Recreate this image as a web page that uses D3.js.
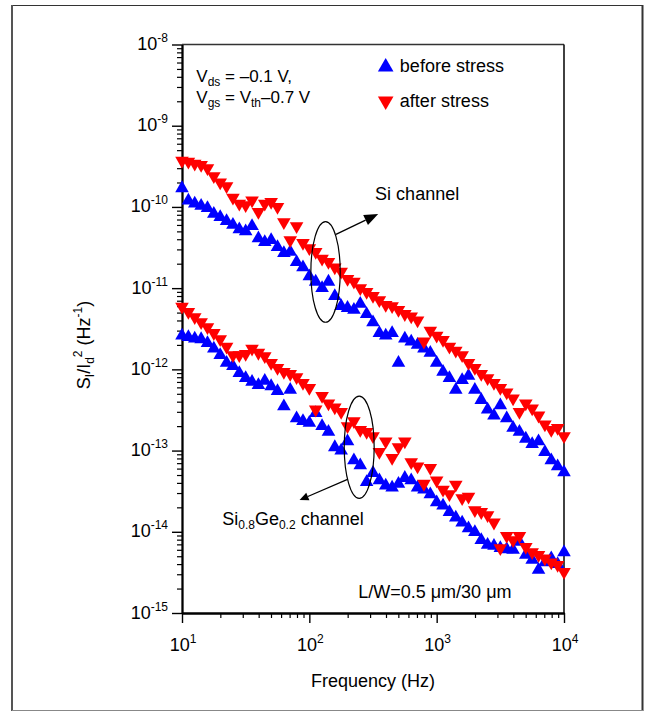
<!DOCTYPE html>
<html><head><meta charset="utf-8">
<script src="https://cdn.jsdelivr.net/npm/d3@7"></script>
<style>
body{margin:0;background:#fff;}
svg text{font-family:"Liberation Sans", Arial, Helvetica, sans-serif;fill:#000;}
</style></head><body>
<svg id="chart" width="647" height="713"></svg>
<script>
// ---------- data ----------
const frequencies = [10, 11.22, 12.59, 14.13, 15.85, 17.78, 19.95, 22.39, 25.12, 28.18,
  31.62, 35.48, 39.81, 44.67, 50.12, 56.23, 63.10, 70.79, 79.43, 89.13,
  100, 112.2, 125.9, 141.3, 158.5, 177.8, 199.5, 223.9, 251.2, 281.8,
  316.2, 354.8, 398.1, 446.7, 501.2, 562.3, 631.0, 707.9, 794.3, 891.3,
  1000, 1122, 1259, 1413, 1585, 1778, 1995, 2239, 2512, 2818,
  3162, 3548, 3981, 4467, 5012, 5623, 6310, 7079, 7943, 8913, 10000];

const siBefore = [1.7e-10, 1.2e-10, 1.1e-10, 1.03e-10, 9.7e-11, 8.2e-11, 7.5e-11, 6.7e-11, 6.0e-11, 5.3e-11,
  5.0e-11, 5.8e-11, 4.1e-11, 3.7e-11, 3.9e-11, 3.2e-11, 2.7e-11, 2.8e-11, 2.1e-11, 1.8e-11,
  1.4e-11, 1.2e-11, 1.0e-11, 1.2e-11, 8.0e-12, 6.0e-12, 5.7e-12, 5.4e-12, 6.4e-12, 4.8e-12,
  3.8e-12, 2.8e-12, 2.6e-12, 2.8e-12, 1.2e-12, 2.4e-12, 2.2e-12, 2.0e-12, 1.8e-12, 1.6e-12,
  1.2e-12, 9.3e-13, 7.8e-13, 5.6e-13, 7.4e-13, 8.3e-13, 5.6e-13, 4.2e-13, 3.2e-13, 2.7e-13,
  3.6e-13, 2.5e-13, 1.9e-13, 1.7e-13, 1.4e-13, 1.2e-13, 1.3e-13, 9.6e-14, 7.6e-14, 6.4e-14, 5.4e-14];

const siAfter = [3.7e-10, 3.6e-10, 3.4e-10, 3.3e-10, 3.0e-10, 2.4e-10, 2.0e-10, 1.8e-10, 1.3e-10, 1.1e-10,
  1.05e-10, 1.2e-10, 8.7e-11, 1.1e-10, 1.15e-10, 1.0e-10, 6.5e-11, 3.9e-11, 5.8e-11, 3.6e-11,
  3.1e-11, 2.8e-11, 2.3e-11, 2.1e-11, 1.8e-11, 1.6e-11, 1.3e-11, 1.2e-11, 1.0e-11, 9.0e-12,
  8.0e-12, 7.1e-12, 6.2e-12, 6.0e-12, 5.4e-12, 4.8e-12, 4.5e-12, 4.0e-12, 2.2e-12, 3.0e-12,
  2.6e-12, 2.3e-12, 1.9e-12, 1.7e-12, 1.5e-12, 1.2e-12, 1.04e-12, 8.8e-13, 7.8e-13, 6.8e-13,
  5.9e-13, 5.2e-13, 4.4e-13, 3.0e-13, 3.8e-13, 3.3e-13, 2.7e-13, 2.1e-13, 1.8e-13, 1.9e-13, 1.5e-13];

const sigeBefore = [2.6e-12, 2.5e-12, 2.4e-12, 2.35e-12, 2.1e-12, 1.8e-12, 1.5e-12, 1.2e-12, 1.1e-12, 9.0e-13,
  7.8e-13, 7.0e-13, 6.4e-13, 7.2e-13, 6.2e-13, 5.4e-13, 3.5e-13, 5.6e-13, 2.5e-13, 2.3e-13,
  2.2e-13, 2.9e-13, 2.0e-13, 1.7e-13, 1.1e-13, 1.0e-13, 1.3e-13, 7.6e-14, 6.6e-14, 4.1e-14,
  5.3e-14, 4.3e-14, 3.7e-14, 3.5e-14, 3.9e-14, 4.6e-14, 4.3e-14, 3.5e-14, 3.3e-14, 2.9e-14,
  2.3e-14, 2.1e-14, 1.75e-14, 1.5e-14, 1.3e-14, 1.1e-14, 9.9e-15, 7.9e-15, 6.9e-15, 6.7e-15,
  6.3e-15, 6.1e-15, 6.0e-15, 7.5e-15, 5.2e-15, 4.5e-15, 3.4e-15, 4.2e-15, 4.7e-15, 4.0e-15, 5.6e-15];

const sigeAfter = [5.9e-12, 5.1e-12, 4.4e-12, 3.8e-12, 3.3e-12, 2.8e-12, 2.35e-12, 1.9e-12, 1.5e-12, 1.5e-12,
  1.55e-12, 1.8e-12, 1.6e-12, 1.45e-12, 1.2e-12, 1.04e-12, 9.3e-13, 8.8e-13, 8.0e-13, 6.8e-13,
  5.9e-13, 3.2e-13, 4.7e-13, 3.8e-13, 3.4e-13, 3.0e-13, 2.0e-13, 2.3e-13, 1.8e-13, 1.7e-13,
  1.5e-13, 9.6e-14, 1.3e-13, 8.1e-14, 1.1e-13, 1.3e-13, 7.2e-14, 6.4e-14, 3.9e-14, 6.1e-14,
  4.3e-14, 3.3e-14, 2.9e-14, 3.8e-14, 2.6e-14, 2.7e-14, 1.85e-14, 1.75e-14, 1.6e-14, 1.3e-14,
  6.3e-15, 8.9e-15, 7.9e-15, 8.9e-15, 6.5e-15, 5.6e-15, 5.2e-15, 4.7e-15, 4.2e-15, 3.9e-15, 3.2e-15];

const xTickExponents = [1, 2, 3, 4];
const yTickExponents = [-15, -14, -13, -12, -11, -10, -9, -8];
const legendLabels = ["before stress", "after stress"];

// ---------- setup ----------
const svg = d3.select("#chart");
const x = d3.scaleLog().domain([10, 1e4]).range([182, 564]);
const y = d3.scaleLog().domain([1e-15, 1e-8]).range([613, 44.5]);
const BLUE = "#0000ff", RED = "#ff0000";

// outer frame
svg.append("line").attr("x1",12).attr("x2",643).attr("y1",5.5).attr("y2",5.5).attr("stroke","#333").attr("stroke-width",1.2);
svg.append("line").attr("x1",12).attr("x2",12).attr("y1",5).attr("y2",711).attr("stroke","#555").attr("stroke-width",2);
svg.append("line").attr("x1",642.5).attr("x2",642.5).attr("y1",5).attr("y2",711).attr("stroke","#333").attr("stroke-width",2);
svg.append("line").attr("x1",12).attr("x2",643).attr("y1",710.5).attr("y2",710.5).attr("stroke","#888").attr("stroke-width",1.2);

// plot box top/right
const [x0, x1] = x.range();
const [yb, yt] = y.range();
svg.append("line").attr("x1",x0).attr("x2",x1).attr("y1",yt).attr("y2",yt).attr("stroke","#333").attr("stroke-width",1.6);
svg.append("line").attr("x1",x1).attr("x2",x1).attr("y1",yt).attr("y2",yb).attr("stroke","#111").attr("stroke-width",1.6);

// minor tick values
const xMinor = [], yMinor = [];
for (let e = 1; e < 4; e++) for (let k = 2; k <= 9; k++) xMinor.push(k * 10 ** e);
for (let e = -15; e < -8; e++) for (let k = 2; k <= 9; k++) yMinor.push(k * 10 ** e);
const xMajor = xTickExponents.map(e => 10 ** e);
const yMajor = yTickExponents.map(e => 10 ** e);

function styleAxis(g, w) {
  g.select(".domain").attr("stroke","#000").attr("stroke-width",1.8);
  g.selectAll(".tick line").attr("stroke","#000").attr("stroke-width",w);
}
const gxm = svg.append("g").attr("transform",`translate(0,${yb})`)
  .call(d3.axisBottom(x).tickValues(xMinor).tickSize(5).tickSizeOuter(0).tickFormat(""));
styleAxis(gxm, 1.2);
const gx = svg.append("g").attr("transform",`translate(0,${yb})`)
  .call(d3.axisBottom(x).tickValues(xMajor).tickSize(10).tickSizeOuter(0).tickFormat(""));
styleAxis(gx, 1.4);
const gym = svg.append("g").attr("transform",`translate(${x0},0)`)
  .call(d3.axisLeft(y).tickValues(yMinor).tickSize(5).tickSizeOuter(0).tickFormat(""));
styleAxis(gym, 1.2);
const gy = svg.append("g").attr("transform",`translate(${x0},0)`)
  .call(d3.axisLeft(y).tickValues(yMajor).tickSize(10).tickSizeOuter(0).tickFormat(""));
styleAxis(gy, 1.4);

// tick labels
svg.selectAll(".xlab").data(xTickExponents).join("text").attr("class","xlab")
  .attr("x", d => x(10 ** d) + 1).attr("y", yb + 38).attr("text-anchor","middle")
  .style("font-size","18px")
  .each(function(d){ const t = d3.select(this);
    t.append("tspan").text("10");
    t.append("tspan").attr("dy",-8).style("font-size","12px").text(d); });
svg.selectAll(".ylab").data(yTickExponents).join("text").attr("class","ylab")
  .attr("x", x0 - 14).attr("y", d => y(10 ** d) + 5.5).attr("text-anchor","end")
  .style("font-size","18px")
  .each(function(d){ const t = d3.select(this);
    t.append("tspan").text("10");
    t.append("tspan").attr("dy",-8).style("font-size","12px").text(d); });

// axis titles
svg.append("text").attr("x",(x0+x1)/2).attr("y",687).attr("text-anchor","middle")
  .style("font-size","18px").text("Frequency (Hz)");
const yt_ = svg.append("text").attr("transform",`translate(90,345) rotate(-90)`)
  .attr("text-anchor","middle").style("font-size","18px");
yt_.append("tspan").text("S");
yt_.append("tspan").attr("dy",4).style("font-size","12px").text("I");
yt_.append("tspan").attr("dy",-4).text("/I");
yt_.append("tspan").attr("dy",4).style("font-size","12px").text("d");
yt_.append("tspan").attr("dy",-12).style("font-size","12px").text("2");
yt_.append("tspan").attr("dy",8).text(" (Hz");
yt_.append("tspan").attr("dy",-8).style("font-size","12px").text("-1");
yt_.append("tspan").attr("dy",8).text(")");

// ---------- markers ----------
const triUp = d3.symbol().type(d3.symbolTriangle).size(80)();
function drawSeries(vals, color, down) {
  svg.append("g").selectAll("path").data(frequencies.map((f,i)=>[f, vals[i]])).join("path")
    .attr("d", triUp).attr("fill", color)
    .attr("transform", d => `translate(${x(d[0])},${y(d[1])})${down ? " rotate(180)" : ""}`);
}
drawSeries(siBefore, BLUE, false);
drawSeries(sigeBefore, BLUE, false);
drawSeries(siAfter, RED, true);
drawSeries(sigeAfter, RED, true);

// ---------- annotations ----------
function ellipse(fl, fr, vt, vb) {
  const cx = (x(fl)+x(fr))/2, cy = (y(vt)+y(vb))/2;
  svg.append("ellipse").attr("cx",cx).attr("cy",cy)
    .attr("rx",(x(fr)-x(fl))/2).attr("ry",(y(vb)-y(vt))/2)
    .attr("fill","none").attr("stroke","#000").attr("stroke-width",1.2);
}
function arrow(f0, v0, f1, v1, len, hw) {
  const ax = x(f0), ay = y(v0), bx = x(f1), by = y(v1);
  const dx = bx-ax, dy = by-ay, L = Math.hypot(dx,dy), ux = dx/L, uy = dy/L;
  const baseX = bx - ux*len, baseY = by - uy*len;
  svg.append("line").attr("x1",ax).attr("y1",ay).attr("x2",baseX).attr("y2",baseY)
    .attr("stroke","#000").attr("stroke-width",1.3);
  svg.append("path").attr("fill","#000")
    .attr("d",`M${bx},${by}L${baseX - uy*hw},${baseY + ux*hw}L${baseX + uy*hw},${baseY - ux*hw}Z`);
}
ellipse(102.8, 174.8, 6.6e-11, 3.8e-12);
ellipse(188, 323, 4.69e-13, 2.58e-14);
arrow(161.8, 4.6e-11, 347.4, 8.18e-11, 14, 5.5);
arrow(199.5, 4.42e-14, 83.8, 2.46e-14, 9, 4);

svg.append("text").attr("x", x(328.6)).attr("y", y(1.22e-10)).style("font-size","18px").text("Si channel");
const sg = svg.append("text").attr("x", x(20.7)).attr("y", y(1.21e-14)).style("font-size","18px");
sg.append("tspan").text("Si");
sg.append("tspan").attr("dy",4).style("font-size","12px").text("0.8");
sg.append("tspan").attr("dy",-4).text("Ge");
sg.append("tspan").attr("dy",4).style("font-size","12px").text("0.2");
sg.append("tspan").attr("dy",-4).text(" channel");

svg.append("text").attr("x", x(242)).attr("y", y(1.53e-15)).style("font-size","18px").text("L/W=0.5 \u03bcm/30 \u03bcm");

const v1 = svg.append("text").attr("x", x(12.95)).attr("y", y(3.48e-9)).style("font-size","17px");
v1.append("tspan").text("V");
v1.append("tspan").attr("dy",4).style("font-size","12px").text("ds");
v1.append("tspan").attr("dy",-4).text(" = \u20130.1 V,");
const v2 = svg.append("text").attr("x", x(12.95)).attr("y", y(1.9e-9)).style("font-size","17px");
v2.append("tspan").text("V");
v2.append("tspan").attr("dy",4).style("font-size","12px").text("gs");
v2.append("tspan").attr("dy",-4).text(" = V");
v2.append("tspan").attr("dy",4).style("font-size","12px").text("th");
v2.append("tspan").attr("dy",-4).text("\u20130.7 V");

// legend
const legY = [5.28e-9, 2.01e-9];
const legTextY = [4.58e-9, 1.70e-9];
svg.append("path").attr("d", triUp).attr("fill", BLUE).attr("transform",`translate(${x(397.8)},${y(legY[0])}) scale(1.15)`);
svg.append("path").attr("d", triUp).attr("fill", RED).attr("transform",`translate(${x(397.8)},${y(legY[1])}) rotate(180) scale(1.15)`);
svg.selectAll(".leg").data(legendLabels).join("text").attr("class","leg")
  .attr("x", x(514)).attr("y", (d,i) => y(legTextY[i])).style("font-size","18px").text(d => d);
</script>
</body></html>
